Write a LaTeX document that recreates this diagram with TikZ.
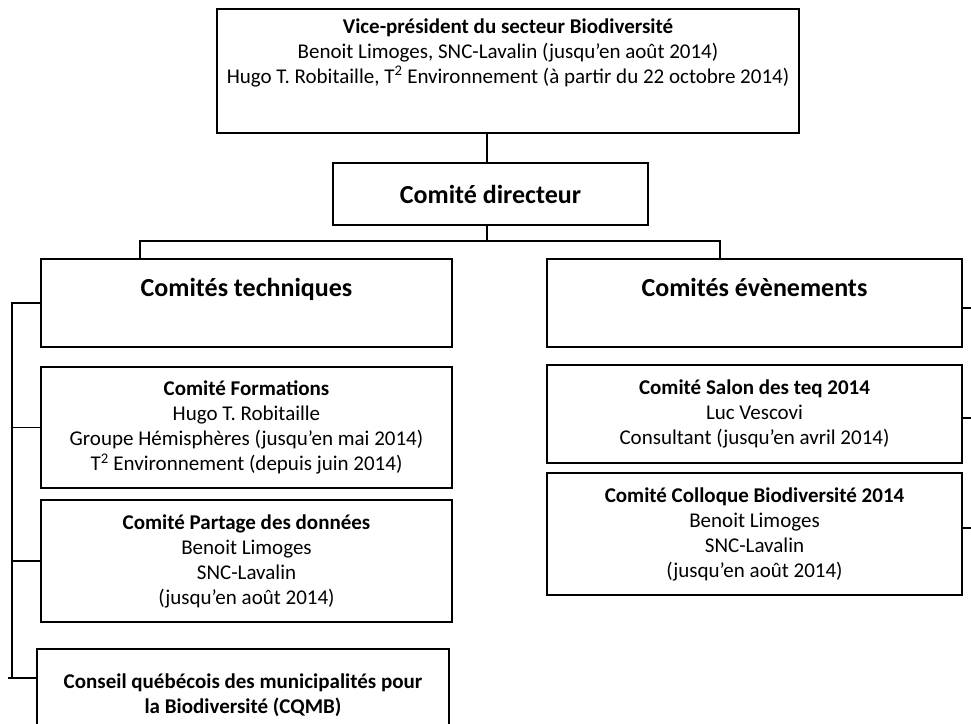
\documentclass[tikz,border=0pt]{standalone}
\usepackage{fontspec}
\setmainfont{Carlito}
\usetikzlibrary{calc}
\begin{document}
\begin{tikzpicture}[x=1pt,y=-1pt,
  box/.style={draw, line width=1.7pt, rectangle, align=center, inner sep=0pt, font=\fontsize{21}{25}\selectfont},
  big/.style={font=\fontsize{26}{31}\selectfont\bfseries},
  conn/.style={line width=1.7pt}]
\useasboundingbox (0,0) rectangle (971,723);
\clip (0,0) rectangle (971,723);
\node[box, minimum width=582pt, minimum height=124pt] (top) at (508,71) {\textbf{Vice-président du secteur Biodiversité}\\Benoit Limoges, SNC-Lavalin (jusqu’en août 2014)\\Hugo T. Robitaille, T\textsuperscript{2} Environnement (à partir du 22 octobre 2014)\\[15pt]\mbox{}};
\node[box, big, minimum width=315pt, minimum height=62pt] (dir) at (490.5,194) {Comité directeur};
\node[box, big, minimum width=411pt, minimum height=88pt] (tech) at (246.5,303) {Comités techniques\\\mbox{}};
\node[box, big, minimum width=415pt, minimum height=88pt] (even) at (754.5,303) {Comités évènements\\\mbox{}};
\node[box, minimum width=411pt, minimum height=121pt] (form) at (246.5,427.5) {\textbf{Comité Formations}\\Hugo T. Robitaille\\Groupe Hémisphères (jusqu’en mai 2014)\\T\textsuperscript{2} Environnement (depuis juin 2014)};
\node[box, minimum width=411pt, minimum height=122pt] (part) at (246.5,561) {\textbf{Comité Partage des données}\\Benoit Limoges\\SNC-Lavalin\\(jusqu’en août 2014)};
\node[box, minimum width=412pt, minimum height=93pt] (cqmb) at (243,695.5) {\textbf{Conseil québécois des municipalités pour}\\\textbf{la Biodiversité (CQMB)}};
\node[box, minimum width=415pt, minimum height=98pt] (salon) at (754.5,414) {\textbf{Comité Salon des teq 2014}\\Luc Vescovi\\Consultant (jusqu’en avril 2014)};
\node[box, minimum width=415pt, minimum height=122pt] (coll) at (754.5,534) {\textbf{Comité Colloque Biodiversité 2014}\\Benoit Limoges\\SNC-Lavalin\\(jusqu’en août 2014)};
\coordinate (vx) at (487,0);
\coordinate (bus) at (0,241);
\coordinate (lx) at (140,0);
\coordinate (rx) at (720,0);
\coordinate (sp) at (12,0);
\coordinate (rr) at (971,0);
\coordinate (cq) at (8,678);
\draw[conn] (top.south -| vx) -- (dir.north -| vx);
\draw[conn] (dir.south -| vx) -- (bus -| vx);
\draw[conn] (tech.north -| lx) -- (bus -| lx) -- (bus -| rx) -- (even.north -| rx);
\draw[conn] (tech.west) -- (tech.west -| sp) -- (cq -| sp);
\draw[conn] (form.west) -- (form.west -| sp);
\draw[conn] (part.west) -- (part.west -| sp);
\draw[conn] (cq) -- (cq -| cqmb.west);
\coordinate (e1) at ($(even.east)+(0,5)$);
\coordinate (e2) at ($(salon.east)+(0,4)$);
\coordinate (e3) at ($(coll.east)+(0,-6)$);
\draw[conn] (e1) -- (e1 -| rr);
\draw[conn] (e2) -- (e2 -| rr);
\draw[conn] (e3) -- (e3 -| rr);
\end{tikzpicture}
\end{document}
